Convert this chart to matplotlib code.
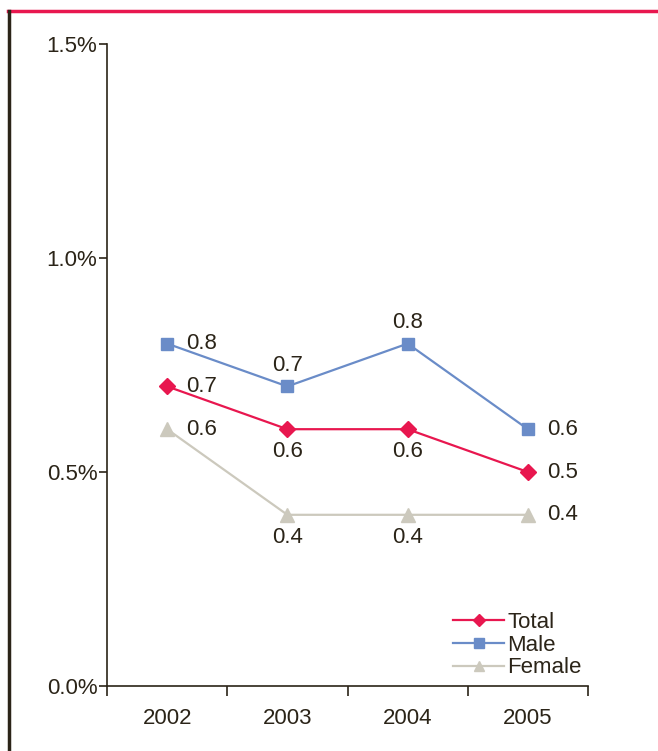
import matplotlib
matplotlib.use("Agg")
import matplotlib.pyplot as plt
from matplotlib.lines import Line2D

plt.rcParams['font.family'] = ['Liberation Sans', 'DejaVu Sans']

years = ["2002", "2003", "2004", "2005"]
total = [0.7, 0.6, 0.6, 0.5]
male = [0.8, 0.7, 0.8, 0.6]
female = [0.6, 0.4, 0.4, 0.4]
y_ticks = [0.0, 0.5, 1.0, 1.5]
y_tick_labels = ["0.0%", "0.5%", "1.0%", "1.5%"]

TEXT = "#2B2418"
C_TOTAL = "#E8174F"
C_MALE = "#6A8CC8"
C_FEMALE = "#CCC9BD"
FS = 16

fig = plt.figure(figsize=(6.58, 7.51), dpi=100)
ax = fig.add_axes([107 / 658, 1 - 686 / 751, (588 - 107) / 658, (686 - 44) / 751])

x = list(range(1, len(years) + 1))
ax.plot(x, total, color=C_TOTAL, lw=1.6, marker="D", ms=8, label="Total", zorder=3)
ax.plot(x, male, color=C_MALE, lw=1.6, marker="s", ms=9, label="Male", zorder=3)
ax.plot(x, female, color=C_FEMALE, lw=1.6, marker="^", ms=10, label="Female", zorder=2)

# value labels: endpoints to the right, middle years above/below
def label(xi, v, pos):
    if pos == "right":
        ax.annotate(f"{v:.1f}", (xi, v), xytext=(14, 0), textcoords="offset points",
                    ha="left", va="center", fontsize=FS, color=TEXT)
    elif pos == "above":
        ax.annotate(f"{v:.1f}", (xi, v), xytext=(0, 15), textcoords="offset points",
                    ha="center", va="center", fontsize=FS, color=TEXT)
    else:
        ax.annotate(f"{v:.1f}", (xi, v), xytext=(0, -16), textcoords="offset points",
                    ha="center", va="center", fontsize=FS, color=TEXT)

for i, xi in enumerate(x):
    if i in (0, len(x) - 1):
        for s in (total, male, female):
            label(xi, s[i], "right")
    else:
        label(xi, male[i], "above")
        label(xi, total[i], "below")
        label(xi, female[i], "below")

ax.set_xlim(0.5, len(years) + 0.5)
ax.set_ylim(0, 1.5)
ax.set_yticks(y_ticks)
ax.set_yticklabels(y_tick_labels)
ax.set_xticks(x)
ax.set_xticklabels(years)
ax.set_xticks([i + 0.5 for i in range(0, len(years) + 1)], minor=True)
ax.tick_params(axis="x", which="major", length=0, pad=16, labelsize=FS, labelcolor=TEXT)
ax.tick_params(axis="x", which="minor", length=7, width=1.2, color=TEXT, direction="out")
ax.tick_params(axis="y", which="major", length=6, width=1.2, color=TEXT, pad=1,
               labelsize=FS, labelcolor=TEXT, direction="out")

for side in ("top", "right"):
    ax.spines[side].set_visible(False)
for side in ("left", "bottom"):
    ax.spines[side].set_color(TEXT)
    ax.spines[side].set_linewidth(1.2)

leg = ax.legend(loc="lower left", bbox_to_anchor=(346 / 481, 0.012), frameon=False,
                fontsize=FS, handlelength=2.3, handletextpad=0.15, labelspacing=0.08,
                borderaxespad=0, borderpad=0, markerscale=0.75)
for t in leg.get_texts():
    t.set_color(TEXT)

# page frame: red rule across the top, dark rule down the left
fig.add_artist(Line2D([8 / 658, 657 / 658], [1 - 10.5 / 751] * 2, color=C_TOTAL, lw=2.5,
                      transform=fig.transFigure))
fig.add_artist(Line2D([8.5 / 658] * 2, [0, 1 - 11 / 751], color=TEXT, lw=2.5,
                      transform=fig.transFigure))

fig.savefig("out.png", dpi=100)
